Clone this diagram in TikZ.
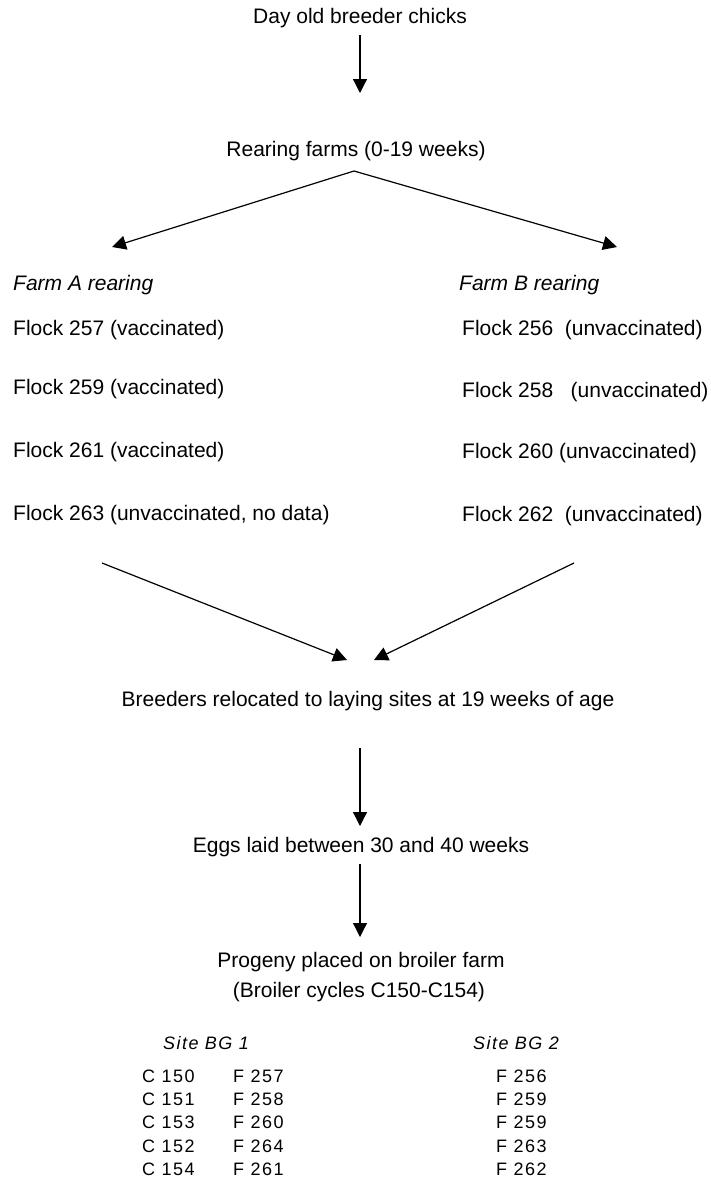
\documentclass[tikz,border=0pt]{standalone}
\usepackage{fontspec}
\setmainfont{Liberation Sans}
\usepackage{tikz}
\usetikzlibrary{arrows.meta}

\newcommand{\mainsz}{\fontsize{21}{25}\selectfont}
\newcommand{\tabsz}{\fontsize{18}{21}\selectfont\addfontfeatures{LetterSpace=8}}

\begin{document}
\begin{tikzpicture}[x=1pt, y=-1pt,
        txt/.style={font=\mainsz, inner sep=0pt},
        ltxt/.style={txt, anchor=west},
        tab/.style={font=\tabsz, inner sep=0pt, anchor=west},
        flow/.style={line width=1.2pt, -{Triangle[width=14pt,length=14pt]}}]
            \useasboundingbox (0,0) rectangle (711,1178);

            \node[txt] (chicks) at (360,18) {Day old breeder chicks};
            \node[txt] (rearing) at (356,151) {Rearing farms (0-19 weeks)};

            \node[ltxt] (farmA) at (13,285) {\itshape Farm A rearing};
            \node[ltxt] (f257) at (13,330) {Flock 257 (vaccinated)};
            \node[ltxt] (f259) at (13,389) {Flock 259 (vaccinated)};
            \node[ltxt] (f261) at (13,452) {Flock 261 (vaccinated)};
            \node[ltxt] (f263) at (13,515) {Flock 263 (unvaccinated, no data)};

            \node[ltxt] (farmB) at (459,285) {\itshape Farm B rearing};
            \node[ltxt] (f256) at (462,330) {Flock 256\ \ (unvaccinated)};
            \node[ltxt] (f258) at (462,392) {Flock 258\ \ \ (unvaccinated)};
            \node[ltxt] (f260) at (462,453) {Flock 260 (unvaccinated)};
            \node[ltxt] (f262) at (462,516) {Flock 262\ \ (unvaccinated)};

            \node[txt] (relocated) at (368,701) {Breeders relocated to laying sites at 19 weeks of age};
            \node[txt] (eggs) at (361,847) {Eggs laid between 30 and 40 weeks};
            \node[txt] (progeny) at (361,962) {Progeny placed on broiler farm};
            \node[txt] (cycles) at (359,992) {(Broiler cycles C150-C154)};

            \node[tab] (site1) at (163,1043) {\itshape Site BG 1};
            \node[tab] (site2) at (473,1043) {\itshape Site BG 2};
            \foreach \c/\f/\g [count=\i] in {150/257/256, 151/258/259, 153/260/259, 152/264/263, 154/261/262} {
                \node[tab] (c\i) at (142,1053+23.2*\i) {C \c};
                \node[tab] (fa\i) at (233,1053+23.2*\i) {F \f};
                \node[tab] (fb\i) at (496,1053+23.2*\i) {F \g};
            }

            \coordinate (top1) at (360,35);
            \coordinate (tip1) at (360,93);
            \coordinate (apex) at (354,171);
            \coordinate (tipA) at (112,247);
            \coordinate (tipB) at (617,247);
            \coordinate (startA) at (102,563);
            \coordinate (startB) at (574,563);
            \coordinate (tipC) at (347,660);
            \coordinate (tipD) at (374,660);
            \coordinate (top3) at (360,748);
            \coordinate (tip3) at (360,826);
            \coordinate (top4) at (360,864);
            \coordinate (tip4) at (360,937);

            \draw[flow] (top1) -- (tip1);
            \draw[flow] (apex) -- (tipA);
            \draw[flow] (apex) -- (tipB);
            \draw[flow] (startA) -- (tipC);
            \draw[flow] (startB) -- (tipD);
            \draw[flow] (top3) -- (tip3);
            \draw[flow] (top4) -- (tip4);
        \end{tikzpicture}
\end{document}
